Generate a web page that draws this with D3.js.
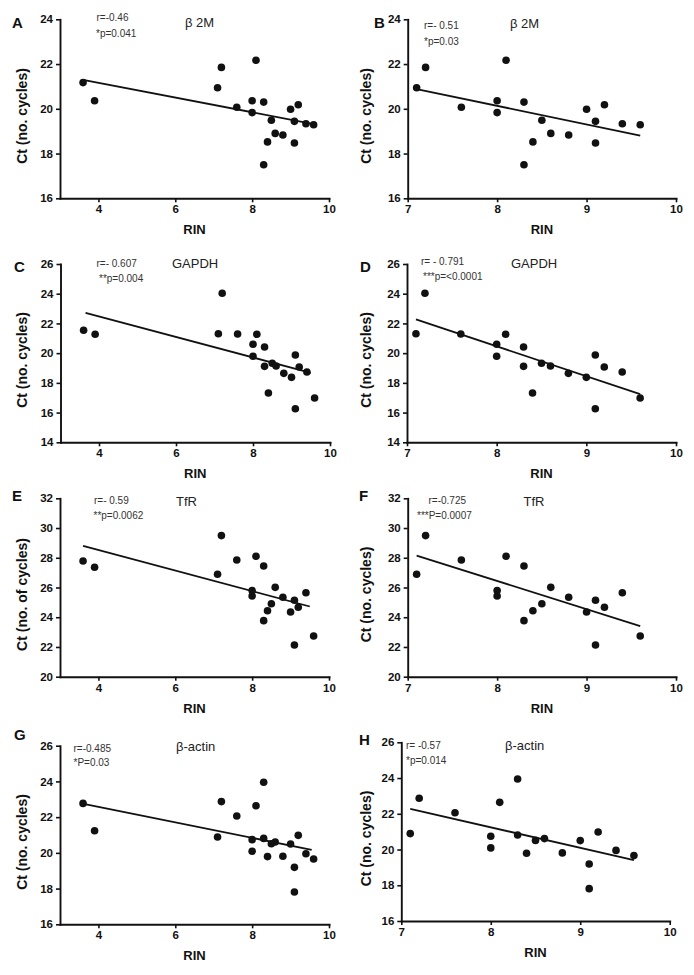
<!DOCTYPE html>
<html><head><meta charset="utf-8">
<script src="https://cdn.jsdelivr.net/npm/d3@7"></script>
<style>
body{margin:0;background:#fff}
svg{display:block}
text{font-family:"Liberation Sans",Arial,Helvetica,sans-serif}
</style>
</head><body>
<svg id="c" width="694" height="975"></svg>
<script>
// ---- data ----
const rin   = [3.6, 3.9, 7.1, 7.2, 7.6, 8.0, 8.0, 8.1, 8.3, 8.3, 8.4, 8.5, 8.6, 8.8, 9.0, 9.1, 9.1, 9.2, 9.4, 9.6];
const b2m   = [21.17, 20.36, 20.94, 21.85, 20.07, 20.36, 19.83, 22.17, 20.30, 17.50, 18.52, 19.49, 18.90, 18.83, 19.98, 19.44, 18.47, 20.18, 19.33, 19.29];
const gapdh = [21.54, 21.27, 21.31, 24.03, 21.29, 20.60, 19.79, 21.27, 20.41, 19.11, 17.32, 19.32, 19.14, 18.64, 18.37, 19.88, 16.26, 19.07, 18.73, 16.98];
const tfr   = [27.78, 27.36, 26.89, 29.49, 27.85, 25.79, 25.43, 28.10, 27.45, 23.77, 24.44, 24.91, 26.01, 25.34, 24.35, 25.14, 22.13, 24.67, 25.65, 22.74];
const actin = [22.77, 21.24, 20.89, 22.87, 22.06, 20.74, 20.09, 22.64, 23.95, 20.81, 19.79, 20.51, 20.61, 19.81, 20.50, 19.19, 17.81, 20.98, 19.95, 19.66];

const xTicksAll  = [4, 6, 8, 10];
const xTicksHigh = [7, 8, 9, 10];
const yTicksB2m   = [16, 18, 20, 22, 24];
const yTicksGapdh = [14, 16, 18, 20, 22, 24, 26];
const yTicksTfr   = [20, 22, 24, 26, 28, 30, 32];
const yTicksActin = [16, 18, 20, 22, 24, 26];

const geneNames = ["β 2M", "GAPDH", "TfR", "β-actin"];
const rTexts = ["r=-0.46", "r=- 0.51", "r=- 0.607", "r= - 0.791", "r=- 0.59", "r=-0.725", "r=-0.485", "r= -0.57"];
const pTexts = ["*p=0.041", "*p=0.03", "**p=0.004", "***p=<0.0001", "**p=0.0062", "***P=0.0007", "*P=0.03", "*p=0.014"];
const yTitles = ["Ct (no. cycles)", "Ct (no. cycles)", "Ct (no. cycles)", "Ct (no. cycles)", "Ct (no. of cycles)", "Ct (no. cycles)", "Ct (no. cycles)", "Ct (no. cycles)"];
const letters = ["A", "B", "C", "D", "E", "F", "G", "H"];
const fitFrom = [3.6, 7.1, 3.65, 7.1, 3.6, 7.1, 3.55, 7.1];
const fitTo   = [9.6, 9.6, 9.5, 9.6, 9.5, 9.6, 9.55, 9.6];

// ---- layout (pixels) ----
const layout = [
 {ct:b2m,   yt:yTicksB2m,   high:false, xr:[60,329],    yr:[198.3,19.3], letter:[12,28],  r:[96.5,21],   p:[96,37],     t:[185,27],  yl:[27,116]},
 {ct:b2m,   yt:yTicksB2m,   high:true,  xr:[407.7,676], yr:[198.3,19.3], letter:[374,28], r:[424,29],    p:[424,45],    t:[510,28],  yl:[371,116]},
 {ct:gapdh, yt:yTicksGapdh, high:false, xr:[60.5,330],  yr:[442.3,264],  letter:[14,272], r:[96.5,267],  p:[99,281.5],  t:[172,268], yl:[27,360]},
 {ct:gapdh, yt:yTicksGapdh, high:true,  xr:[407,676],   yr:[442.3,264],  letter:[360,272],r:[421,265],   p:[423,280],   t:[511,268], yl:[371,360]},
 {ct:tfr,   yt:yTicksTfr,   high:false, xr:[60,329],    yr:[676.7,498.3],letter:[12,501], r:[94,503.5],  p:[93.5,519],  t:[176,506], yl:[27,594.5]},
 {ct:tfr,   yt:yTicksTfr,   high:true,  xr:[407.7,676], yr:[676.7,498.3],letter:[359,501],r:[428.5,503.5],p:[417,519],  t:[523.5,506],yl:[371,594.5]},
 {ct:actin, yt:yTicksActin, high:false, xr:[60,329],    yr:[924.3,745.7],letter:[14,740], r:[73.5,752],  p:[73.5,766],  t:[176,751], yl:[27,842]},
 {ct:actin, yt:yTicksActin, high:true,  xr:[401.3,669.7],yr:[921,742.3], letter:[359,745],r:[406,749],   p:[406,764],   t:[505,750], yl:[371,838.5]},
];

function linFit(xs, ys) {
  const mx = d3.mean(xs), my = d3.mean(ys);
  let sxy = 0, sxx = 0;
  xs.forEach((x, i) => { sxy += (x - mx) * (ys[i] - my); sxx += (x - mx) * (x - mx); });
  const b = sxy / sxx;
  return x => my + b * (x - mx);
}

const svg = d3.select("#c");
const ink = "#111";

layout.forEach((L, i) => {
  const pts = rin.map((x, k) => ({x, y: L.ct[k]})).filter(d => !L.high || d.x >= 7);
  const xDom = L.high ? [7, 10] : [3, 10];
  const x = d3.scaleLinear().domain(xDom).range(L.xr);
  const y = d3.scaleLinear().domain([d3.min(L.yt), d3.max(L.yt)]).range(L.yr);
  const g = svg.append("g");

  const xa = g.append("g").attr("transform", `translate(0,${L.yr[0]})`)
    .call(d3.axisBottom(x).tickValues(L.high ? xTicksHigh : xTicksAll).tickSize(4).tickSizeOuter(0).tickPadding(3).tickFormat(d3.format("d")));
  const ya = g.append("g").attr("transform", `translate(${L.xr[0]},0)`)
    .call(d3.axisLeft(y).tickValues(L.yt).tickSize(4).tickSizeOuter(0).tickPadding(3).tickFormat(d3.format("d")));
  [xa, ya].forEach(a => {
    a.select(".domain").attr("stroke", ink).attr("stroke-width", 1.9).attr("stroke-linecap", "square");
    a.selectAll(".tick line").attr("stroke", ink).attr("stroke-width", 1.6);
    a.selectAll(".tick text").attr("fill", ink).attr("font-size", 11.5).attr("font-weight", "bold")
      .attr("font-family", '"Liberation Sans",Arial,sans-serif');
  });

  // regression line
  const f = linFit(pts.map(d => d.x), pts.map(d => d.y));
  g.append("line")
    .attr("x1", x(fitFrom[i])).attr("y1", y(f(fitFrom[i])))
    .attr("x2", x(fitTo[i])).attr("y2", y(f(fitTo[i])))
    .attr("stroke", ink).attr("stroke-width", 1.8);

  g.selectAll("circle.pt").data(pts).join("circle")
    .attr("cx", d => x(d.x)).attr("cy", d => y(d.y)).attr("r", 3.8).attr("fill", ink);

  // texts
  g.append("text").attr("x", L.letter[0]).attr("y", L.letter[1]).attr("font-size", 15).attr("font-weight", "bold").attr("fill", ink).text(letters[i]);
  g.append("text").attr("x", L.r[0]).attr("y", L.r[1]).attr("font-size", 10).attr("fill", "#333").text(rTexts[i]);
  g.append("text").attr("x", L.p[0]).attr("y", L.p[1]).attr("font-size", 10).attr("fill", "#333").text(pTexts[i]);
  g.append("text").attr("x", L.t[0]).attr("y", L.t[1]).attr("font-size", 13).attr("fill", "#222").text(geneNames[Math.floor(i / 2)]);
  g.append("text").attr("transform", `translate(${L.yl[0]},${L.yl[1]}) rotate(-90)`).attr("text-anchor", "middle")
    .attr("font-size", 14).attr("font-weight", "bold").attr("fill", ink).text(yTitles[i]);
  g.append("text").attr("x", (L.xr[0] + L.xr[1]) / 2).attr("y", L.yr[0] + 36).attr("text-anchor", "middle")
    .attr("font-size", 13).attr("font-weight", "bold").attr("fill", ink).text("RIN");
});
</script>
</body></html>
